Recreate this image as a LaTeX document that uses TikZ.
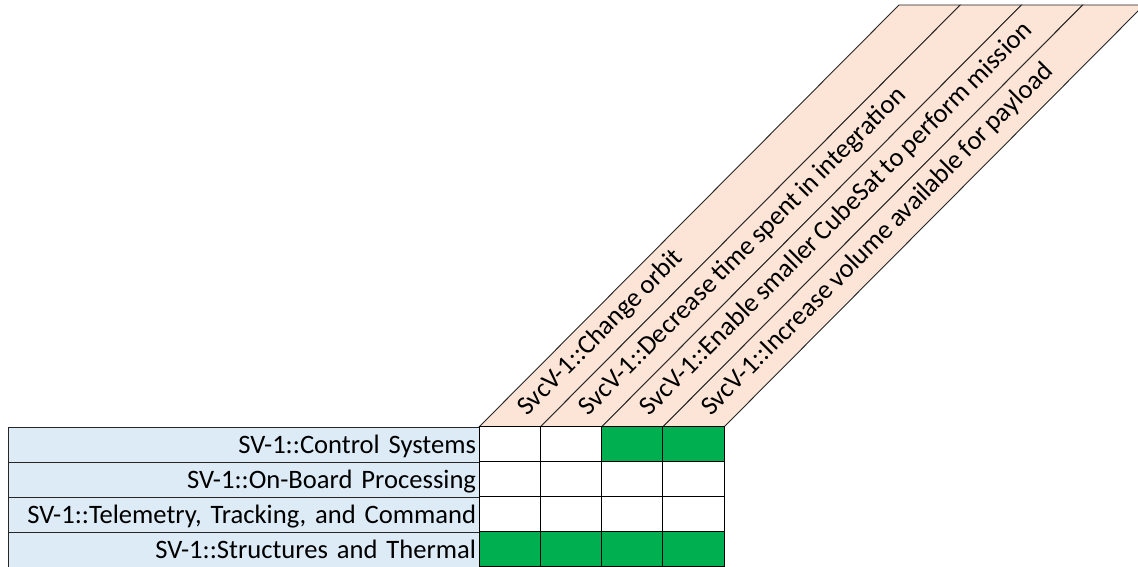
\documentclass[tikz,border=0pt]{standalone}
\usepackage{fontspec}
\setmainfont{Carlito}[WordSpace={0.8}]
\definecolor{rowblue}{HTML}{DDEBF7}
\definecolor{headpeach}{HTML}{FCE4D6}
\definecolor{cellgreen}{HTML}{00B050}
\begin{document}
\begin{tikzpicture}[x=1pt,y=1pt,
  cell/.style={draw=black,line width=1pt,minimum width=61.25pt,minimum height=35pt,inner sep=0pt,outer sep=0pt},
  rowlab/.style={draw=black!85,line width=0.9pt,fill=rowblue,minimum height=35pt,text width=465pt,align=right,inner xsep=3pt,inner ysep=0pt,outer sep=0pt,font=\fontsize{26.6}{30}\selectfont,text depth=0pt},
  headtext/.style={rotate=45.1,anchor=mid west,inner sep=0pt,font=\fontsize{26.6}{30}\selectfont},
  headbox/.style={draw=black!85,line width=0.9pt,fill=headpeach}]
\useasboundingbox (0,0) rectangle (1138,567);
\clip (0,0) rectangle (1138,567);
\fill[white] (0,0) rectangle (1138,567);
% header parallelograms
\foreach \i in {0,1,2,3}{
  \pgfmathsetmacro{\xa}{479+61.25*\i}
  \pgfmathsetmacro{\xb}{479+61.25*(\i+1)}
  \filldraw[headbox] (\xa,140) -- (\xa+420,562) -- (\xb+420,562) -- (\xb,140) -- cycle;
}
\node[headtext] (h1) at (509.6+16,152) {SvcV-1::Change orbit};
\node[headtext] (h2) at (570.9+16,152) {SvcV-1::Decrease time spent in integration};
\node[headtext] (h3) at (632.1+16,152) {SvcV-1::Enable smaller CubeSat to perform mission};
\node[headtext] (h4) at (693.4+16,152) {SvcV-1::Increase volume available for payload};
% row labels
\node[rowlab,anchor=south west] (r1) at (8,105) {SV-1::Control Systems};
\node[rowlab,anchor=south west] (r2) at (8,70) {SV-1::On-Board Processing};
\node[rowlab,anchor=south west] (r3) at (8,35) {SV-1::Telemetry, Tracking, and Command};
\node[rowlab,anchor=south west] (r4) at (8,0) {SV-1::Structures and Thermal};
% cells
\node[cell,fill=white,anchor=south west] (c11) at (479,105) {};
\node[cell,fill=white,anchor=south west] (c12) at (540.25,105) {};
\node[cell,fill=cellgreen,anchor=south west] (c13) at (601.5,105) {};
\node[cell,fill=cellgreen,anchor=south west] (c14) at (662.75,105) {};
\node[cell,fill=white,anchor=south west] (c21) at (479,70) {};
\node[cell,fill=white,anchor=south west] (c22) at (540.25,70) {};
\node[cell,fill=white,anchor=south west] (c23) at (601.5,70) {};
\node[cell,fill=white,anchor=south west] (c24) at (662.75,70) {};
\node[cell,fill=white,anchor=south west] (c31) at (479,35) {};
\node[cell,fill=white,anchor=south west] (c32) at (540.25,35) {};
\node[cell,fill=white,anchor=south west] (c33) at (601.5,35) {};
\node[cell,fill=white,anchor=south west] (c34) at (662.75,35) {};
\node[cell,fill=cellgreen,anchor=south west] (c41) at (479,0) {};
\node[cell,fill=cellgreen,anchor=south west] (c42) at (540.25,0) {};
\node[cell,fill=cellgreen,anchor=south west] (c43) at (601.5,0) {};
\node[cell,fill=cellgreen,anchor=south west] (c44) at (662.75,0) {};
\end{tikzpicture}
\end{document}
